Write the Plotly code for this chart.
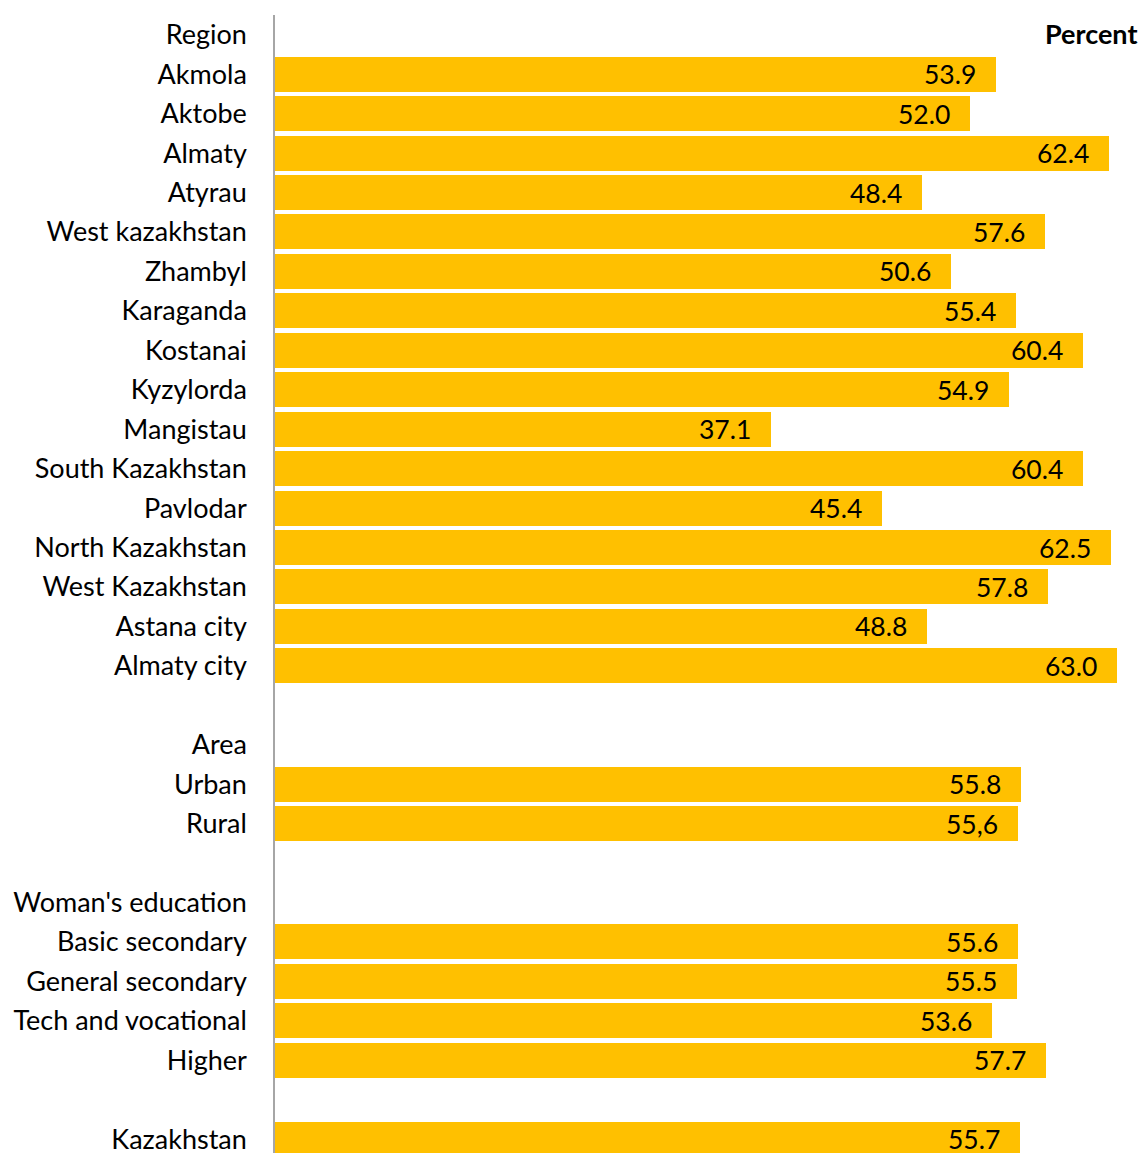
import plotly.graph_objects as go

categories = ["Region", "Akmola", "Aktobe", "Almaty", "Atyrau", "West kazakhstan", "Zhambyl",
              "Karaganda", "Kostanai", "Kyzylorda", "Mangistau", "South Kazakhstan", "Pavlodar",
              "North Kazakhstan", "West Kazakhstan", "Astana city", "Almaty city", "",
              "Area", "Urban", "Rural", "",
              "Woman's education", "Basic secondary", "General secondary", "Tech and vocational", "Higher", "",
              "Kazakhstan"]
values = [None, 53.9, 52.0, 62.4, 48.4, 57.6, 50.6, 55.4, 60.4, 54.9, 37.1, 60.4, 45.4, 62.5, 57.8, 48.8, 63.0, None,
          None, 55.8, 55.6, None,
          None, 55.6, 55.5, 53.6, 57.7, None,
          55.7]
value_labels = ["", "53.9", "52.0", "62.4", "48.4", "57.6", "50.6", "55.4", "60.4", "54.9", "37.1", "60.4", "45.4",
                "62.5", "57.8", "48.8", "63.0", "",
                "", "55.8", "55,6", "",
                "", "55.6", "55.5", "53.6", "57.7", "",
                "55.7"]

FONT = "Lato, Carlito, Calibri, sans-serif"
pos = list(range(len(categories)))

fig = go.Figure()
fig.add_trace(go.Bar(
    y=pos, x=values, orientation="h", width=0.886,
    marker=dict(color="#FFC000", line=dict(width=0)),
    hoverinfo="skip",
))

for p, v, t in zip(pos, values, value_labels):
    if v is None:
        continue
    fig.add_annotation(x=v, y=p, xref="x", yref="y", text=t, showarrow=False,
                       xanchor="right", yanchor="middle", xshift=-18, yshift=0,
                       font=dict(family=FONT, size=26.5, color="black"))

fig.add_annotation(x=1, y=0, xref="paper", yref="y", text="<b>Percent</b>", showarrow=False,
                   xanchor="right", yanchor="middle", xshift=-3, yshift=1,
                   font=dict(family=FONT, size=27, color="black"))

fig.update_layout(
    width=1142, height=1155,
    margin=dict(l=275, r=0, t=15, b=0, pad=0),
    paper_bgcolor="white", plot_bgcolor="white",
    showlegend=False,
    bargap=0,
    font=dict(family=FONT, size=27, color="black"),
    xaxis=dict(range=[0, 64.85], visible=False, fixedrange=True),
    yaxis=dict(range=[28.35, -0.5], tickvals=pos, ticktext=categories,
               showline=True, linecolor="#A6A6A6", linewidth=1.5,
               showgrid=False, zeroline=False, ticks="", ticklabelstandoff=21,
               ticklabeloverflow="allow",
               tickfont=dict(family=FONT, size=27, color="black")),
)

fig.write_html("out.html")
